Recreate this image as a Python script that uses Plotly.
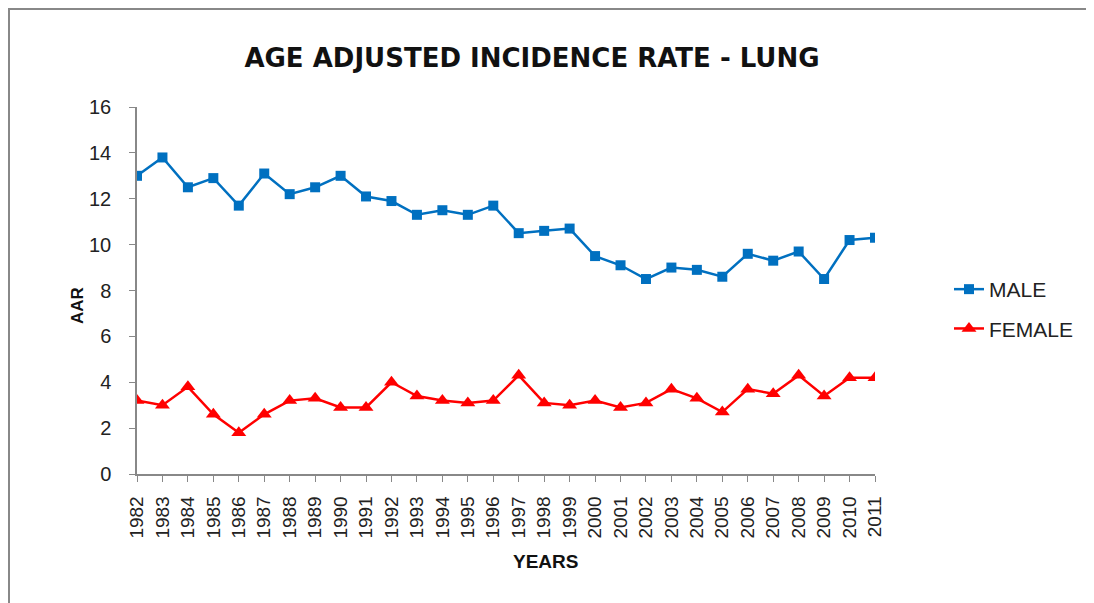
import plotly.graph_objects as go

years = list(range(1982, 2012))
male = [13.0, 13.8, 12.5, 12.9, 11.7, 13.1, 12.2, 12.5, 13.0, 12.1,
        11.9, 11.3, 11.5, 11.3, 11.7, 10.5, 10.6, 10.7, 9.5, 9.1,
        8.5, 9.0, 8.9, 8.6, 9.6, 9.3, 9.7, 8.5, 10.2, 10.3]
female = [3.2, 3.0, 3.8, 2.6, 1.8, 2.6, 3.2, 3.3, 2.9, 2.9,
          4.0, 3.4, 3.2, 3.1, 3.2, 4.3, 3.1, 3.0, 3.2, 2.9,
          3.1, 3.7, 3.3, 2.7, 3.7, 3.5, 4.3, 3.4, 4.2, 4.2]
y_ticks = [0, 2, 4, 6, 8, 10, 12, 14, 16]

font_family = "Liberation Sans, Arial, sans-serif"
AXIS_GRAY = "#888888"

fig = go.Figure()
fig.add_trace(go.Scatter(
    x=years, y=male, name="MALE", mode="lines+markers", legendgroup="m",
    line=dict(color="#0070C0", width=2.5),
    marker=dict(symbol="square", size=10, color="#0070C0"),
))
fig.add_trace(go.Scatter(
    x=years, y=female, name="FEMALE", mode="lines+markers", legendgroup="f",
    line=dict(color="#FF0000", width=2.5),
    marker=dict(symbol="triangle-up", size=13, color="#FF0000"),
))

# page has an 8px body margin; figure coordinates = reference - 8
OFF = 8
W, H = 1094 - OFF, 603 - OFF
L, T = 137 - OFF, 107 - OFF
R = W - (875 - OFF)
B = H - (474 - OFF)
pw, ph = W - L - R, H - T - B


def px_x(x):
    return (x - OFF - L) / pw


def px_y(y):
    return (H - B - (y - OFF)) / ph


fig.update_layout(
    width=W, height=H,
    margin=dict(l=L, r=R, t=T, b=B),
    paper_bgcolor="white", plot_bgcolor="white",
    font=dict(family=font_family, color="#222222"),
    title=dict(text="<b>AGE ADJUSTED INCIDENCE RATE - LUNG</b>",
               x=(532 - OFF) / W, xanchor="center",
               y=1 - (58 - OFF) / H, yanchor="middle",
               font=dict(family="DejaVu Sans, sans-serif", size=26,
                         color="#111111")),
    showlegend=True,
    legend=dict(x=px_x(949), xanchor="left", y=px_y(309),
                yanchor="middle", font=dict(size=21, color="#222222"),
                bgcolor="rgba(0,0,0,0)", traceorder="grouped",
                tracegroupgap=9),
    xaxis=dict(
        range=[1982, 2011], tickmode="array", tickvals=years,
        ticktext=[str(y) for y in years], tickangle=-90,
        showgrid=False, zeroline=False, showline=True,
        linecolor=AXIS_GRAY, linewidth=1.5,
        ticks="outside", ticklen=6, tickcolor=AXIS_GRAY, tickwidth=1.2,
        ticklabelstandoff=7,
        tickfont=dict(size=19, color="#222222"),
    ),
    yaxis=dict(
        range=[0, 16], tickmode="array", tickvals=y_ticks,
        showgrid=False, zeroline=False, showline=True,
        linecolor=AXIS_GRAY, linewidth=1.5,
        ticks="outside", ticklen=6, tickcolor=AXIS_GRAY, tickwidth=1.2,
        ticklabelstandoff=14,
        tickfont=dict(size=20, color="#222222"),
    ),
    annotations=[
        dict(text="<b>YEARS</b>", xref="paper", yref="paper",
             x=px_x(545), y=px_y(561), xanchor="center", yanchor="middle",
             showarrow=False, font=dict(size=19, color="#111111")),
        dict(text="<b>AAR</b>", xref="paper", yref="paper", textangle=-90,
             x=px_x(77), y=px_y(306), xanchor="center", yanchor="middle",
             showarrow=False, font=dict(size=17, color="#111111")),
    ],
    shapes=[dict(
        type="rect", xref="paper", yref="paper",
        x0=px_x(OFF + 1), x1=px_x(1090),
        y0=px_y(620), y1=px_y(OFF + 1),
        line=dict(color="#888888", width=2), fillcolor="rgba(0,0,0,0)",
        layer="below",
    )],
)

fig.write_html("out.html")
